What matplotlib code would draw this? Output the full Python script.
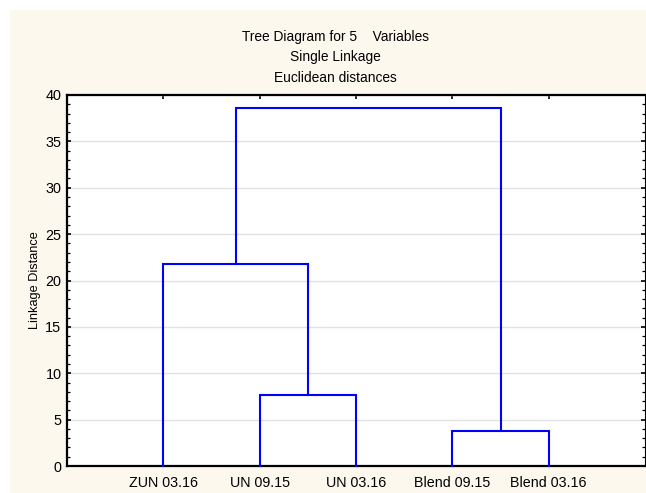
import matplotlib
matplotlib.use('Agg')
import matplotlib.pyplot as plt
from matplotlib.patches import Rectangle
from matplotlib.ticker import MultipleLocator

plt.rcParams['font.family'] = ['Liberation Sans', 'DejaVu Sans']

title_lines = ["Tree Diagram for 5    Variables", "Single Linkage", "Euclidean distances"]
ylabel = "Linkage Distance"
leaves = ["ZUN 03.16", "UN 09.15", "UN 03.16", "Blend 09.15", "Blend 03.16"]
# linkage steps: nodes 0-4 are leaves, 5+ are merged clusters in order
link_left = [1, 3, 0, 7]
link_right = [2, 4, 5, 6]
link_dist = [7.7, 3.8, 21.8, 38.6]

W, H = 646, 493
fig = plt.figure(figsize=(W / 100, H / 100), dpi=100, facecolor='white')
fig.patches.append(Rectangle((10 / W, 0), 1, (H - 10) / H, transform=fig.transFigure,
                             facecolor='#FCF8EE', edgecolor='none', zorder=-10))

ax = fig.add_axes([67 / W, (H - 466) / H, (645 - 67) / W, (466 - 95) / H])
ax.set_facecolor('white')

# node positions
xs = {i: i + 1 for i in range(len(leaves))}
hs = {i: 0.0 for i in range(len(leaves))}
for k, (l, r, d) in enumerate(zip(link_left, link_right, link_dist)):
    node = len(leaves) + k
    ax.plot([xs[l], xs[l], xs[r], xs[r]], [hs[l], d, d, hs[r]], color='#0000FF', lw=1.5,
            solid_joinstyle='miter', zorder=3, clip_on=False)
    xs[node] = (xs[l] + xs[r]) / 2
    hs[node] = d

ax.set_xlim(0, 6)
ax.set_ylim(0, 40)
ax.set_xticks(range(1, len(leaves) + 1))
ax.set_xticklabels(leaves, fontsize=10.3)
ax.yaxis.set_major_locator(MultipleLocator(5))
ax.yaxis.set_minor_locator(MultipleLocator(1))
ax.tick_params(axis='y', which='major', direction='in', length=3, width=1.2, labelsize=10.4,
               right=True, left=True, pad=4)
ax.tick_params(axis='y', which='minor', direction='in', length=2, width=0.9, right=True, left=True)
ax.tick_params(axis='x', which='major', direction='in', length=3, width=1.2, top=True, bottom=True, pad=7)
ax.grid(axis='y', which='major', color='#E3E3E3', lw=1)
ax.set_axisbelow(True)
for s in ('left', 'bottom', 'top'):
    ax.spines[s].set_linewidth(1.6)
ax.spines['right'].set_linewidth(0.8)
ax.set_ylabel(ylabel, fontsize=9.2, labelpad=3)

for i, t in enumerate(title_lines):
    fig.text(335 / W, 1 - (37 + 20.5 * i) / H, t, ha='center', va='center', fontsize=9.9)

fig.savefig('out.png', dpi=100, facecolor=fig.get_facecolor())
